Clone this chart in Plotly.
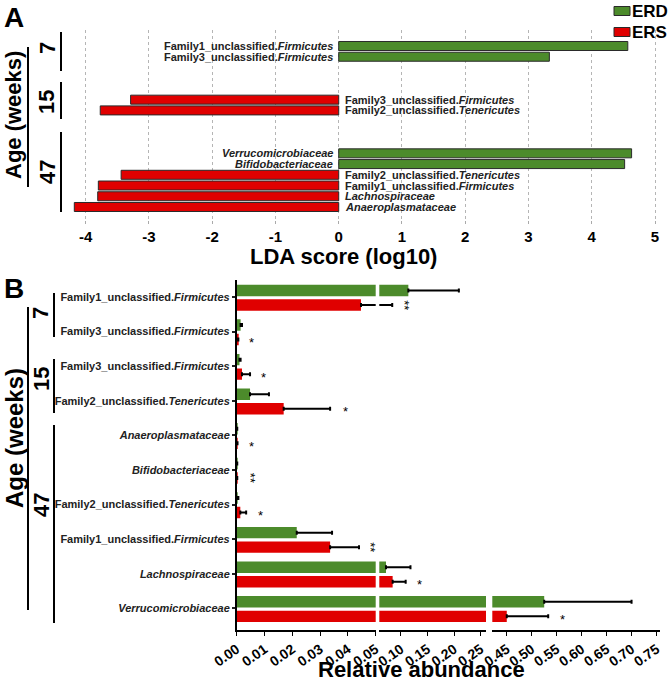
import plotly.graph_objects as go

W, H = 669, 683
GREEN = "#4c8b2b"
RED = "#e00000"
FONT = "Liberation Sans, Arial, sans-serif"

# ---------------- Panel A data (LDA scores) ----------------
lda_groups = ["7", "7", "15", "15", "47", "47", "47", "47", "47", "47"]
lda_labels = ["Family1_unclassified.<i>Firmicutes</i>",
              "Family3_unclassified.<i>Firmicutes</i>",
              "Family3_unclassified.<i>Firmicutes</i>",
              "Family2_unclassified.<i>Tenericutes</i>",
              "<i>Verrucomicrobiaceae</i>",
              "<i>Bifidobacteriaceae</i>",
              "Family2_unclassified.<i>Tenericutes</i>",
              "Family1_unclassified.<i>Firmicutes</i>",
              "<i>Lachnospiraceae</i>",
              "<i>Anaeroplasmataceae</i>"]
lda_scores = [4.57, 3.33, -3.29, -3.77, 4.63, 4.52, -3.44, -3.80, -3.81, -4.18]
lda_ticks = [-4, -3, -2, -1, 0, 1, 2, 3, 4, 5]

# ---------------- Panel B data (relative abundance) ----------------
ab_groups = ["7", "7", "15", "15", "47", "47", "47", "47", "47", "47"]
ab_labels = ["Family1_unclassified.<i>Firmicutes</i>",
             "Family3_unclassified.<i>Firmicutes</i>",
             "Family3_unclassified.<i>Firmicutes</i>",
             "Family2_unclassified.<i>Tenericutes</i>",
             "<i>Anaeroplasmataceae</i>",
             "<i>Bifidobacteriaceae</i>",
             "Family2_unclassified.<i>Tenericutes</i>",
             "Family1_unclassified.<i>Firmicutes</i>",
             "<i>Lachnospiraceae</i>",
             "<i>Verrucomicrobiaceae</i>"]
erd_mean = [0.114, 0.0014, 0.0010, 0.0048, 0.0001, 0.0001, 0.0002, 0.0216, 0.072, 0.525]
erd_err = [0.095, 0.0005, 0.0004, 0.0068, 0.0001, 0.0001, 0.0004, 0.0127, 0.046, 0.175]
ers_mean = [0.0447, 0.0005, 0.0019, 0.0169, 0.0002, 0.0001, 0.0013, 0.0336, 0.0845, 0.450]
ers_err = [0.039, 0.0001, 0.0029, 0.0167, 0.0001, 0.0001, 0.0021, 0.0104, 0.0245, 0.083]
sig_marks = ["**", "*", "*", "*", "*", "**", "*", "**", "*", "*"]
sig_x = [0.111, 0.0054, 0.0095, 0.0390, 0.0055, 0.0059, 0.0087, 0.0494, 0.1356, 0.5626]

seg_ranges = [[0.0, 0.05], [0.0594, 0.26], [0.421, 0.757]]
seg_ticks = [[0.00, 0.01, 0.02, 0.03, 0.04, 0.05],
             [0.10, 0.15, 0.20, 0.25],
             [0.45, 0.50, 0.55, 0.60, 0.65, 0.70, 0.75]]

series_names = ["ERD", "ERS"]
series_colors = [GREEN, RED]


def px(x):
    return x / W


def py(y):
    return 1 - y / H


# slot positions for panel A (gap of 3 slots between age groups)
slots = []
s = 0
prev = None
for g in lda_groups:
    if prev is not None and g != prev:
        s += 3
    slots.append(s)
    s += 1
    prev = g

fig = go.Figure()

# Panel A bars
for name, color, sign in [("ERD", GREEN, 1), ("ERS", RED, -1)]:
    idx = [i for i, v in enumerate(lda_scores) if v * sign > 0]
    fig.add_trace(go.Bar(
        x=[lda_scores[i] for i in idx], y=[slots[i] for i in idx],
        orientation="h", name=name, xaxis="x", yaxis="y",
        width=0.84, offset=-0.42,
        marker=dict(color=color, line=dict(color="#2a2a2a", width=1)),
        showlegend=False, legendgroup=name,
    ))

# Panel B bars: same data drawn in each of the three broken-axis segments
ypos = list(range(len(ab_labels)))
for k in range(3):
    xa = "x%d" % (k + 2)
    fig.add_trace(go.Bar(
        x=erd_mean, y=ypos, orientation="h", xaxis=xa, yaxis="y2",
        width=0.33, offset=-0.355, name="ERD", legendgroup="ERD", showlegend=False,
        marker=dict(color=GREEN, line=dict(width=0)),
        error_x=dict(type="data", array=erd_err, arrayminus=[0] * len(erd_err),
                     symmetric=False, color="black", thickness=2, width=2),
    ))
    fig.add_trace(go.Bar(
        x=ers_mean, y=ypos, orientation="h", xaxis=xa, yaxis="y2",
        width=0.33, offset=0.065, name="ERS", legendgroup="ERS", showlegend=False,
        marker=dict(color=RED, line=dict(width=0)),
        error_x=dict(type="data", array=ers_err, arrayminus=[0] * len(ers_err),
                     symmetric=False, color="black", thickness=2, width=2),
    ))

annotations = []
# Panel A labels next to zero
for i, lab in enumerate(lda_labels):
    pos = lda_scores[i] > 0
    annotations.append(dict(
        x=0, y=slots[i], xref="x", yref="y", text="<b>" + lab + "</b>",
        showarrow=False, xanchor="right" if pos else "left", yanchor="middle",
        xshift=-4 if pos else 4, font=dict(size=11, color="#222", family=FONT)))

# Panel B significance marks ("**" drawn as two stacked stars)
for i, (m, xv) in enumerate(zip(sig_marks, sig_x)):
    seg = 0
    for k, r in enumerate(seg_ranges):
        if r[0] <= xv <= r[1]:
            seg = k
    multi = len(m) > 1
    annotations.append(dict(
        x=xv, y=i + 0.23, xref="x%d" % (seg + 2), yref="y2", text=m,
        showarrow=False, xanchor="center", yanchor="middle",
        textangle=90 if multi else 0, yshift=0 if multi else -3,
        xshift=-3 if multi else 0,
        font=dict(size=13, color="black", family=FONT)))


def ptext(text, x, y, size, angle=0, xanchor="center"):
    annotations.append(dict(
        x=px(x), y=py(y), xref="paper", yref="paper", text="<b>%s</b>" % text,
        showarrow=False, xanchor=xanchor, yanchor="middle", textangle=angle,
        font=dict(size=size, color="black", family=FONT)))


ptext("A", 14, 17, 28)
ptext("B", 14, 288, 28)
ptext("LDA score (log10)", 343, 256, 22)
ptext("Relative abundance", 421, 669, 22)
ptext("Age (weeks)", 14, 115, 22, -90)
ptext("Age (weeks)", 14, 438, 24, -90)
ptext("7", 47, 48, 22, -90)
ptext("15", 47, 102, 22, -90)
ptext("47", 47, 172, 22, -90)
ptext("7", 41, 313, 22, -90)
ptext("15", 41, 379, 22, -90)
ptext("47", 41, 505, 22, -90)

shapes = []


def vline(x, y0, y1):
    shapes.append(dict(type="line", xref="paper", yref="paper",
                       x0=px(x), x1=px(x), y0=py(y0), y1=py(y1),
                       line=dict(color="black", width=2)))


vline(28, 47, 187)
vline(61, 32, 71)
vline(61, 82, 119)
vline(61, 132, 212)
vline(28, 307, 610)
vline(54, 293, 337)
vline(54, 359, 413)
vline(54, 425, 623)

# colour key (top right)
for j, (nm, col) in enumerate(zip(series_names, series_colors)):
    yc = 11 + 21 * j
    shapes.append(dict(type="rect", xref="paper", yref="paper",
                       x0=px(614), x1=px(630), y0=py(yc - 4.5), y1=py(yc + 4.5),
                       fillcolor=col, line=dict(color="#2a2a2a", width=1)))
    ptext(nm, 629.5, yc + 0.5, 17, xanchor="left")

# Axes
a_top, a_bot = 30, 220
slot_px = (207 - 46) / 15.0
layout = dict(
    width=W, height=H, margin=dict(l=0, r=0, t=0, b=0, autoexpand=False),
    paper_bgcolor="white", plot_bgcolor="white",
    font=dict(family=FONT, color="black"),
    barmode="overlay",
    showlegend=False,
    xaxis=dict(domain=[px(70), px(665)], range=[-4.248, 5.158], anchor="y",
               automargin=False,
               tickvals=lda_ticks, ticktext=[str(t) for t in lda_ticks],
               showgrid=True, gridcolor="#b5b5b5", griddash="dot", gridwidth=1,
               zeroline=False, showline=False, ticks="outside", ticklen=3,
               tickcolor="#aaa",
               tickfont=dict(size=15, weight="bold", color="black", family=FONT)),
    yaxis=dict(domain=[py(a_bot), py(a_top)], anchor="x", automargin=False,
               range=[(a_bot - 46) / slot_px, (a_top - 46) / slot_px],
               showticklabels=False, showgrid=False, zeroline=False,
               showline=False, ticks=""),
    yaxis2=dict(domain=[py(630), py(280)], anchor="x2", automargin=False,
                range=[(630 - 297) / 34.6, (280 - 297) / 34.6],
                tickvals=ypos, ticktext=["<b>%s</b>" % l for l in ab_labels],
                showgrid=False, zeroline=False, showline=True,
                linecolor="black", linewidth=1.5, ticks="outside", ticklen=3,
                tickwidth=1.5, tickcolor="#222",
                tickfont=dict(size=11, color="#222", family=FONT)),
    shapes=shapes,
    annotations=annotations,
)
seg_dom = [[236.7, 375.7], [379.3, 486.0], [492.3, 660.0]]
for k in range(3):
    layout["xaxis%d" % (k + 2)] = dict(
        domain=[px(seg_dom[k][0]), px(seg_dom[k][1])], range=seg_ranges[k],
        anchor="y2", automargin=False, tickvals=seg_ticks[k],
        ticktext=["%.2f" % t for t in seg_ticks[k]], tickangle=-35,
        showgrid=False, zeroline=False, showline=True, linecolor="black",
        linewidth=1.5, ticks="outside", ticklen=4, tickcolor="black",
        tickfont=dict(size=14, weight="bold", color="black", family=FONT))

fig.update_layout(**layout)
# remove the browser's default 8px page margin so the figure fills the window
fig.write_html("out.html", config={"displayModeBar": False},
               post_script="document.body.style.margin='0';")
